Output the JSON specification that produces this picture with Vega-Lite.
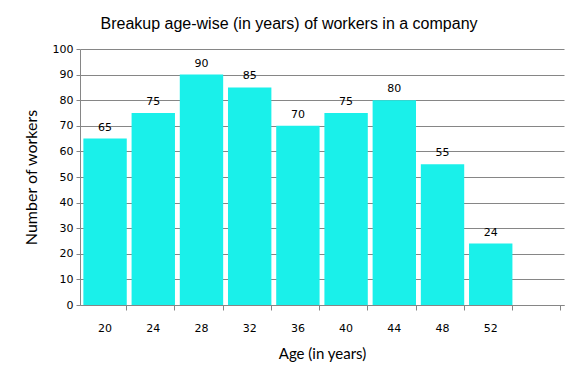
{
  "$schema": "https://vega.github.io/schema/vega-lite/v6.json",
  "autosize": "none",
  "width": 484,
  "height": 256,
  "padding": {"left": 80, "top": 49, "right": 20, "bottom": 81},
  "background": "white",
  "title": {
    "text": "Breakup age-wise (in years) of workers in a company",
    "font": "Liberation Sans",
    "fontSize": 16,
    "fontWeight": "normal",
    "color": "#000000",
    "anchor": "middle",
    "dx": -33,
    "offset": 11
  },
  "data": {
    "values": [
      {"age": "20", "workers": 65},
      {"age": "24", "workers": 75},
      {"age": "28", "workers": 90},
      {"age": "32", "workers": 85},
      {"age": "36", "workers": 70},
      {"age": "40", "workers": 75},
      {"age": "44", "workers": 80},
      {"age": "48", "workers": 55},
      {"age": "52", "workers": 24}
    ]
  },
  "encoding": {
    "x": {
      "field": "age",
      "type": "ordinal",
      "sort": null,
      "scale": {"domain": ["20", "24", "28", "32", "36", "40", "44", "48", "52", ""], "paddingInner": 0.1, "paddingOuter": 0.07},
      "axis": {
        "title": "Age (in years)",
        "labelAngle": 0,
        "bandPosition": 1,
        "tickSize": 5,
        "labelPadding": 12,
        "titlePadding": 13
      }
    },
    "y": {
      "field": "workers",
      "type": "quantitative",
      "scale": {"domain": [0, 100], "nice": false},
      "axis": {
        "title": "Number of workers",
        "titleFontSize": 16,
        "values": [0, 10, 20, 30, 40, 50, 60, 70, 80, 90, 100],
        "tickSize": 4,
        "labelPadding": 3,
        "titlePadding": 13
      }
    }
  },
  "layer": [
    {"mark": {"type": "bar", "color": "#1AF0EA"}},
    {
      "mark": {"type": "text", "baseline": "bottom", "dy": -6, "font": "DejaVu Sans", "fontSize": 11, "color": "#000000"},
      "encoding": {"text": {"field": "workers", "type": "quantitative"}}
    }
  ],
  "config": {
    "view": {"stroke": null},
    "axis": {
      "domainColor": "#868686",
      "tickColor": "#868686",
      "gridColor": "#868686",
      "labelFont": "DejaVu Sans",
      "labelFontSize": 11,
      "labelColor": "#000000",
      "titleFont": "Lato",
      "titleFontSize": 15,
      "titleFontWeight": "normal",
      "titleColor": "#000000"
    },
    "axisX": {"grid": false},
    "axisY": {"grid": true, "domain": true}
  }
}
